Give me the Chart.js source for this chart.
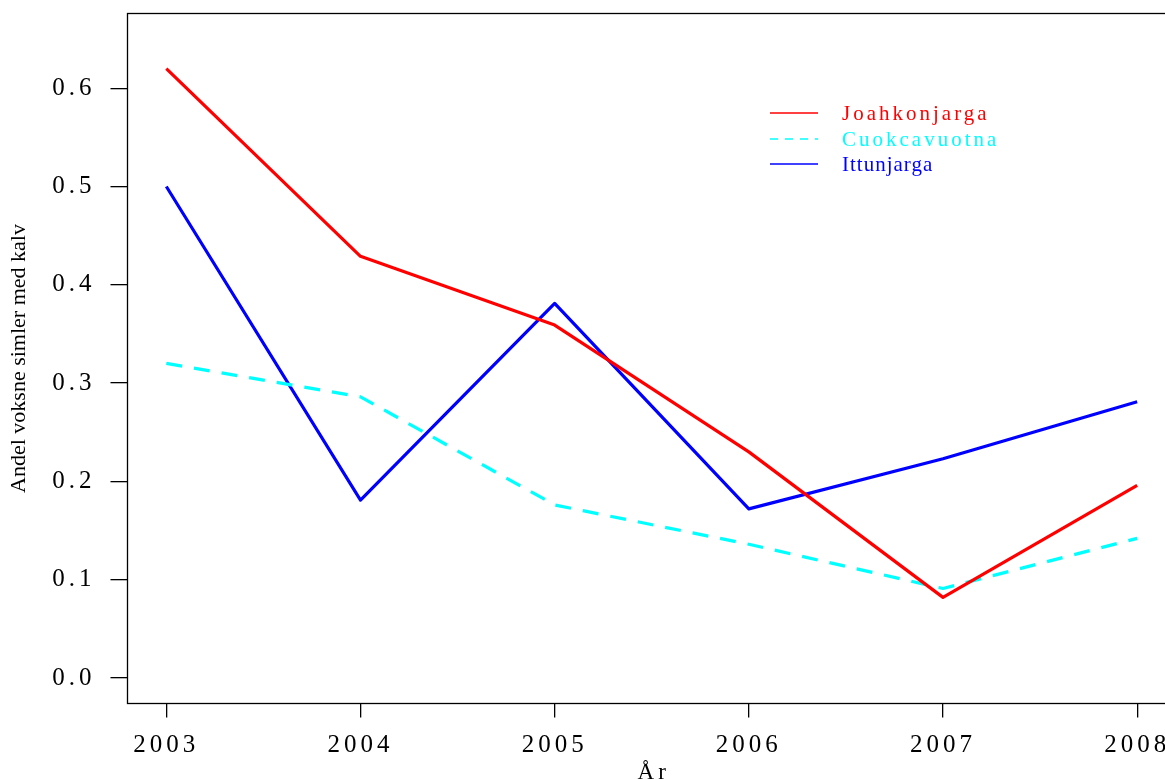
<!DOCTYPE html>
<html>
<head>
<meta charset="utf-8">
<script src="https://cdn.jsdelivr.net/npm/chart.js@4/dist/chart.umd.min.js"></script>
<style>
  html, body { margin: 0; padding: 0; background: #fff; }
  #wrap { width: 1165px; height: 780px; overflow: hidden; position: relative; }
  canvas { display: block; }
</style>
</head>
<body>
<div id="wrap"><canvas id="c" width="1180" height="780"></canvas></div>
<script>
// Share of adult females with calf, per herding district and year
const years = [2003, 2004, 2005, 2006, 2007, 2008];
const joahkonjarga = [0.620, 0.429, 0.359, 0.230, 0.082, 0.196];
const cuokcavuotna = [0.320, 0.286, 0.176, 0.136, 0.091, 0.142];
const ittunjarga   = [0.500, 0.181, 0.381, 0.172, 0.223, 0.281];
const yTicks = [0.0, 0.1, 0.2, 0.3, 0.4, 0.5, 0.6];

const SERIF = "'Liberation Serif', 'DejaVu Serif', serif";

function pts(vals) { return years.map((y, i) => ({ x: y, y: vals[i] })); }

// Letter spacing for axis tick labels, box frame, titles and the legend
const framePlugin = {
  id: 'frame',
  beforeDraw(chart) { chart.ctx.letterSpacing = '4px'; },
  beforeDatasetsDraw(chart) { chart.ctx.letterSpacing = '0px'; },
  afterDraw(chart) {
    const ctx = chart.ctx;
    const a = chart.chartArea;
    ctx.save();
    ctx.letterSpacing = '0px';
    // plot frame
    ctx.strokeStyle = '#000';
    ctx.lineWidth = 1.3;
    ctx.strokeRect(a.left, a.top, a.right - a.left, a.bottom - a.top);

    // y axis title
    ctx.fillStyle = '#000';
    ctx.font = '22px ' + SERIF;
    ctx.textAlign = 'center';
    ctx.textBaseline = 'middle';
    ctx.save();
    ctx.translate(19, (a.top + a.bottom) / 2);
    ctx.rotate(-Math.PI / 2);
    ctx.fillText('Andel voksne simler med kalv', 0, 0);
    ctx.restore();

    // x axis title
    ctx.letterSpacing = '4px';
    ctx.textBaseline = 'alphabetic';
    ctx.font = '23px ' + SERIF;
    ctx.fillText('År', (a.left + a.right) / 2 + 2, 779);

    // legend
    const rows = [
      { y: 113, spacing: '3px' },
      { y: 139, spacing: '3px' },
      { y: 164, spacing: '1px' }
    ];
    ctx.textAlign = 'left';
    ctx.textBaseline = 'middle';
    ctx.font = '21px ' + SERIF;
    chart.data.datasets.forEach((ds, i) => {
      const r = rows[i];
      ctx.strokeStyle = ds.borderColor;
      ctx.lineWidth = 1.6;
      ctx.setLineDash(ds.borderDash ? [8, 7] : []);
      ctx.beginPath();
      ctx.moveTo(770, r.y);
      ctx.lineTo(818, r.y);
      ctx.stroke();
      ctx.setLineDash([]);
      ctx.fillStyle = ds.borderColor;
      ctx.letterSpacing = r.spacing;
      ctx.fillText(ds.label, 842, r.y + 1);
    });
    ctx.restore();
  }
};

new Chart(document.getElementById('c'), {
  type: 'line',
  data: {
    datasets: [
      { label: 'Joahkonjarga', data: pts(joahkonjarga), borderColor: '#ff0000', borderWidth: 3.2 },
      { label: 'Cuokcavuotna', data: pts(cuokcavuotna), borderColor: '#00ffff', borderWidth: 3.2, borderDash: [16, 12] },
      { label: 'Ittunjarga', data: pts(ittunjarga), borderColor: '#0000ff', borderWidth: 3.2 }
    ]
  },
  options: {
    responsive: false,
    animation: false,
    devicePixelRatio: 1,
    layout: { padding: { top: 13.5, right: 4, left: 0, bottom: 0 } },
    elements: {
      point: { radius: 0, hoverRadius: 0 },
      line: { tension: 0, borderJoinStyle: 'round', borderCapStyle: 'butt', fill: false }
    },
    plugins: { legend: { display: false }, tooltip: { enabled: false } },
    scales: {
      x: {
        type: 'linear',
        min: 2002.8,
        max: 2008.2,
        afterBuildTicks(scale) { scale.ticks = years.map(v => ({ value: v })); },
        afterFit(scale) {
          scale.height = 76.5;
          scale.paddingLeft = 0; scale.paddingRight = 0;
        },
        border: { display: false },
        grid: { drawOnChartArea: false, drawTicks: true, tickLength: 14, color: '#000', lineWidth: 1.3 },
        ticks: {
          color: '#000',
          font: { family: SERIF, size: 25 },
          padding: 13,
          maxRotation: 0,
          autoSkip: false,
          callback: v => String(v)
        }
      },
      y: {
        type: 'linear',
        min: -0.026,
        max: 0.676,
        afterBuildTicks(scale) { scale.ticks = yTicks.map(v => ({ value: v })); },
        afterFit(scale) {
          scale.width = 127.5;
          scale.paddingTop = 0; scale.paddingBottom = 0;
        },
        border: { display: false },
        grid: { drawOnChartArea: false, drawTicks: true, tickLength: 17, color: '#000', lineWidth: 1.3 },
        ticks: {
          color: '#000',
          font: { family: SERIF, size: 25 },
          padding: 15,
          autoSkip: false,
          callback: v => Number(v).toFixed(1)
        }
      }
    }
  },
  plugins: [framePlugin]
});
</script>
</body>
</html>
